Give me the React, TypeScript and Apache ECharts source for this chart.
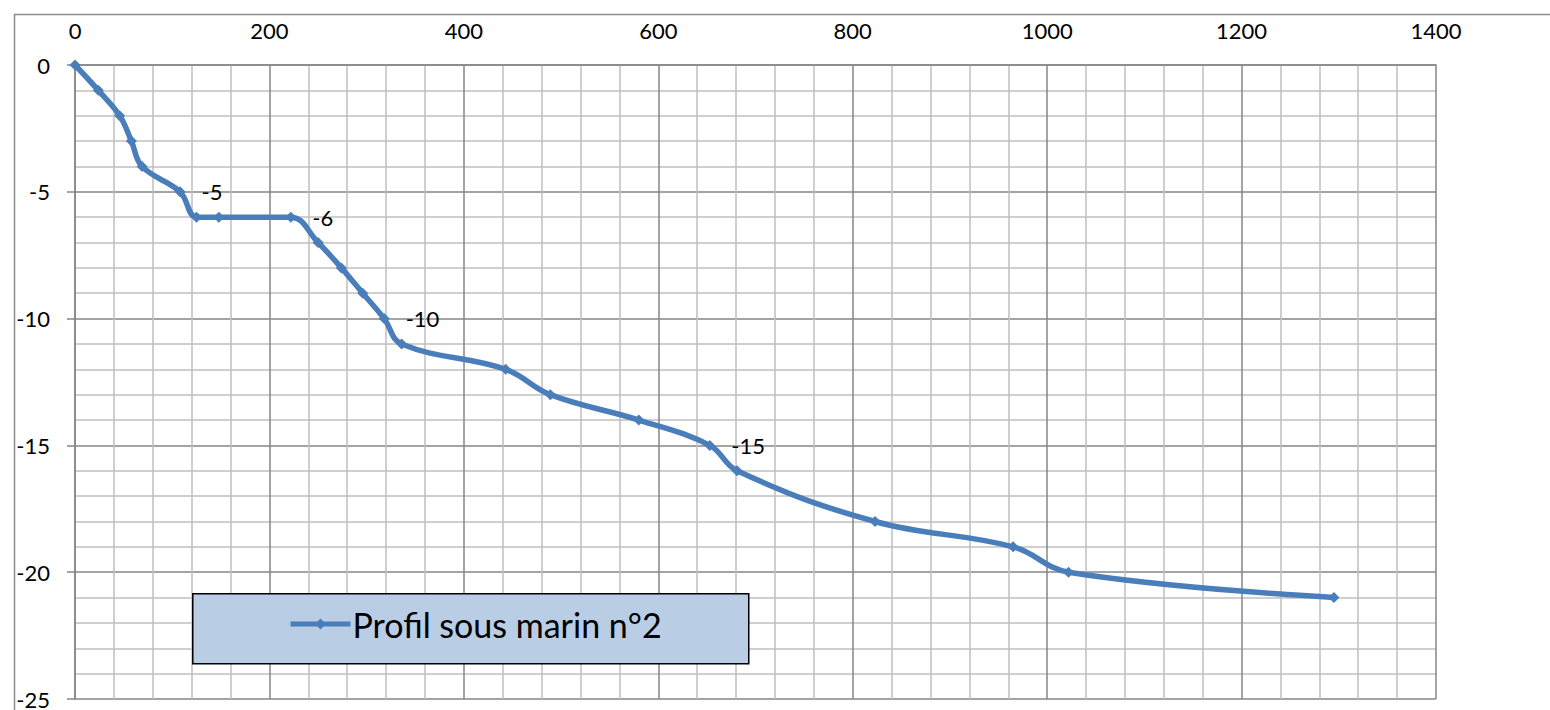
import React, { useEffect, useRef } from "react";
import * as echarts from "echarts";

const distances = [0, 24, 46, 58, 69, 108, 125, 148, 222, 250, 274, 296, 318, 336, 443, 489, 580, 653, 681, 823, 965, 1022, 1295];
const depths = [0, -1, -2, -3, -4, -5, -6, -6, -6, -7, -8, -9, -10, -11, -12, -13, -14, -15, -16, -18, -19, -20, -21];
const labelledIndices = [5, 8, 12, 17];
const seriesName = "Profil sous marin n°2";

const FONT = "Lato";

export default function App() {
  const ref = useRef<HTMLDivElement>(null);
  useEffect(() => {
    if (!ref.current) return;
    const chart = echarts.init(ref.current, undefined, { renderer: "svg" });
    const data = distances.map((d, i) => {
      const item: any = { value: [d, depths[i]] };
      if (labelledIndices.includes(i)) {
        item.label = { show: true };
      }
      return item;
    });
    chart.setOption({
      animation: false,
      backgroundColor: "#ffffff",
      textStyle: { fontFamily: FONT },
      graphic: [
        {
          type: "rect",
          left: 12,
          top: 12,
          shape: { x: 0, y: 0, width: 1600, height: 800 },
          style: { fill: "none", stroke: "#8c8c8c", lineWidth: 1.5 },
          z: -10,
          silent: true,
        },
        {
          type: "rect",
          left: 192,
          top: 593,
          shape: { x: 0, y: 0, width: 556, height: 70 },
          style: { fill: "#b9cde5", stroke: "#000000", lineWidth: 1.5 },
          z: 3,
          silent: true,
        },
      ],
      grid: { left: 75, right: 114, top: 65, bottom: 11, containLabel: false },
      xAxis: {
        type: "value",
        position: "top",
        min: 0,
        max: 1400,
        interval: 200,
        axisLine: { show: true, onZero: false, lineStyle: { color: "#868686", width: 1.5 } },
        axisTick: { show: false },
        axisLabel: { color: "#000", fontSize: 22, fontFamily: FONT, margin: 24, formatter: (v: number) => String(v) },
        splitLine: { show: true, lineStyle: { color: "#868686", width: 1.5 } },
        minorTick: { show: false, splitNumber: 5 },
        minorSplitLine: { show: true, lineStyle: { color: "#bfbfbf", width: 1.5 } },
      },
      yAxis: {
        type: "value",
        min: -25,
        max: 0,
        interval: 5,
        axisLine: { show: true, onZero: false, lineStyle: { color: "#868686", width: 1.5 } },
        axisTick: { show: true, length: 8, lineStyle: { color: "#868686", width: 1.5 } },
        axisLabel: { color: "#000", fontSize: 22, fontFamily: FONT, margin: 25, formatter: (v: number) => String(v) },
        splitLine: { show: true, lineStyle: { color: "#868686", width: 1.5 } },
        minorTick: { show: false, splitNumber: 5 },
        minorSplitLine: { show: true, lineStyle: { color: "#bfbfbf", width: 1.5 } },
      },
      legend: {
        show: true,
        left: 288,
        top: 607,
        orient: "horizontal",
        padding: 0,
        itemWidth: 60,
        itemHeight: 14,
        itemGap: 0,
        z: 4,
        lineStyle: { width: 5 },
        textStyle: { color: "#000", fontSize: 34, fontFamily: FONT, padding: [0, 0, 0, -3] },
        data: [seriesName],
      },
      series: [
        {
          name: seriesName,
          type: "line",
          data,
          smooth: 0.4,
          symbol: "diamond",
          symbolSize: 11,
          lineStyle: { color: "#4a7ebb", width: 5.5 },
          itemStyle: { color: "#4a7ebb" },
          label: {
            show: false,
            position: "right",
            distance: 16,
            color: "#000",
            fontSize: 22,
            fontFamily: FONT,
            formatter: (p: any) => String(p.value[1]),
          },
        },
      ],
    });
    return () => chart.dispose();
  }, []);
  return (
    <div
      ref={ref}
      style={{ position: "fixed", left: 0, top: 0, width: 1550, height: 710 }}
    />
  );
}
